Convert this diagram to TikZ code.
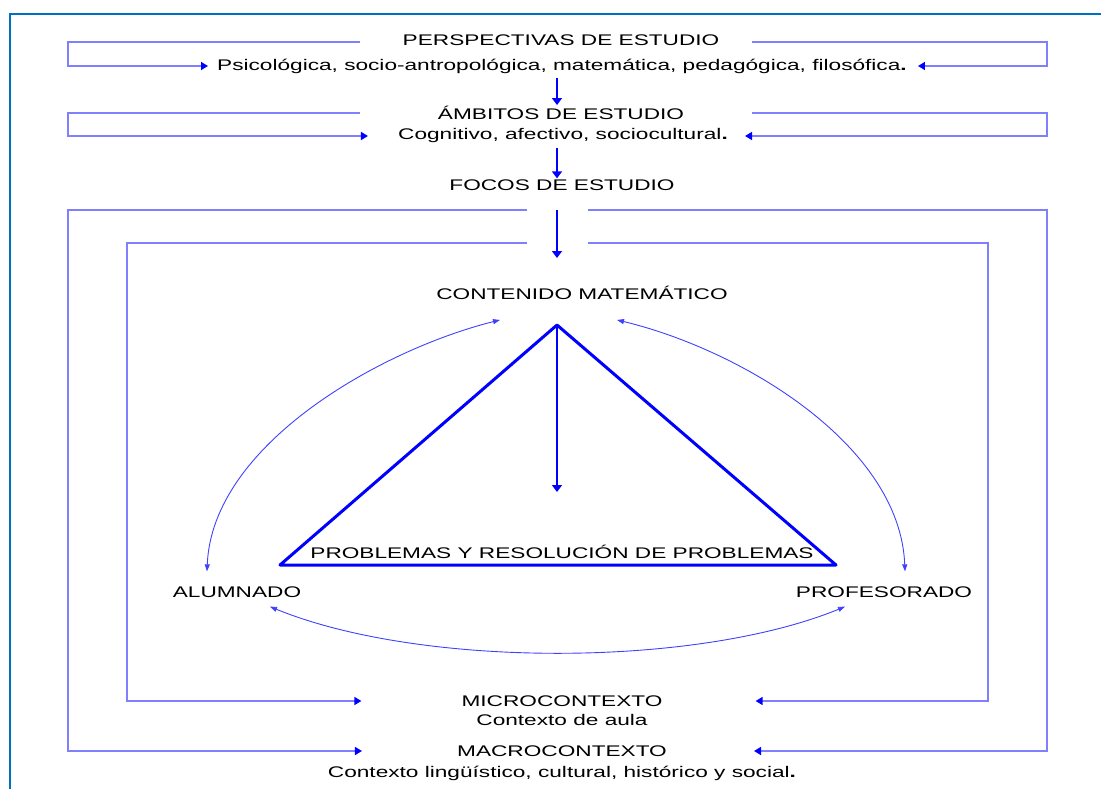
\documentclass[tikz,border=0pt]{standalone}
\usepackage{fontspec}
\setmainfont{Liberation Sans}[FakeStretch=1.47]
\usetikzlibrary{arrows.meta}
\definecolor{framecol}{RGB}{0,112,192}

\begin{document}
\begin{tikzpicture}[x=1pt, y=-1pt,
	lbl/.style={font=\fontsize{15.4}{18}\selectfont, inner sep=1pt},
	guide/.style={blue!50, line width=1.5pt},
	feed/.style={guide, -{Triangle[length=7pt, width=8pt, color=blue]}},
	down/.style={blue, line width=1.5pt, -{Triangle[length=7pt, width=10pt]}},
	link/.style={blue!75, line width=0.9pt, {Triangle[length=7pt, width=5pt]}-{Triangle[length=7pt, width=5pt]}},
	tri/.style={blue, line width=3pt, line join=round}]
	\useasboundingbox (0,0) rectangle (1101,789);
	\draw[framecol, line width=2pt] (10,789) -- (10,14) -- (1101,14);
	% levels of study
	\node[lbl] (persp) at (561,40) {PERSPECTIVAS DE ESTUDIO};
	\node[lbl] (psico) at (562,66) {Psicológica, socio-antropológica, matemática, pedagógica, filosófica\textbf{.}};
	\node[lbl] (ambit) at (561,113) {ÁMBITOS DE ESTUDIO};
	\node[lbl] (cogn) at (563,136) {Cognitivo, afectivo, sociocultural\textbf{.}};
	\node[lbl] (focos) at (562,185) {FOCOS DE ESTUDIO};
	\coordinate (p-l) at (360,42);
	\coordinate (p-r) at (752,42);
	\coordinate (a-l) at (360,113);
	\coordinate (a-r) at (752,113);
	\draw[feed] (p-l) -| (68,66) -- ([xshift=-8]psico.west);
	\draw[feed] (p-r) -| (1047,66) -- ([xshift=10]psico.east);
	\draw[feed] (a-l) -| (68,136) -- ([xshift=-29]cogn.west);
	\draw[feed] (a-r) -| (1047,136) -- ([xshift=16]cogn.east);
	\draw[down] ([xshift=-5,yshift=-4]psico.south) -- ([xshift=-4]ambit.north);
	\draw[down] ([xshift=-6,yshift=-4]cogn.south) -- ([xshift=-5]focos.north);
	% contexts
	\node[lbl] (micro) at (562,701) {MICROCONTEXTO};
	\node[lbl] (aula) at (562,720) {Contexto de aula};
	\node[lbl] (macro) at (562,751) {MACROCONTEXTO};
	\node[lbl] (lingu) at (562,773) {Contexto lingüístico, cultural, histórico y social\textbf{.}};
	\coordinate (o-l) at (527,210);
	\coordinate (o-r) at (588,210);
	\coordinate (i-l) at (527,243);
	\coordinate (i-r) at (588,243);
	\draw[feed] (o-l) -| (68,751) -- ([xshift=-94]macro.west);
	\draw[feed] (o-r) -| (1047,751) -- ([xshift=86]macro.east);
	\draw[feed] (i-l) -| (127,701) -- ([xshift=-99]micro.west);
	\draw[feed] (i-r) -| (988,701) -- ([xshift=92]micro.east);
	\coordinate (f-top) at (557,210);
	\coordinate (f-end) at (557,258);
	\draw[down] (f-top) -- (f-end);
	% didactic triangle
	\node[lbl] (conten) at (582,293) {CONTENIDO MATEMÁTICO};
	\node[lbl] (probl) at (562,552) {PROBLEMAS Y RESOLUCIÓN DE PROBLEMAS};
	\node[lbl] (alum) at (237,592) {ALUMNADO};
	\node[lbl] (prof) at (884,592) {PROFESORADO};
	\coordinate (apex) at (557,325);
	\coordinate (base-l) at (280,565);
	\coordinate (base-r) at (836,565);
	\coordinate (apex-end) at (557,492);
	\draw[tri] (apex) -- (base-l) -- (base-r) -- cycle;
	\draw[down] (apex) -- (apex-end);
	\draw[link] ([xshift=-82,yshift=-19]conten.south) .. controls (380,350) and (212,445) .. ([xshift=-30,yshift=14]alum.north);
	\draw[link] ([xshift=35,yshift=-19]conten.south) .. controls (742,350) and (900,445) .. ([xshift=21,yshift=14]prof.north);
	\draw[link] ([xshift=33,yshift=-8]alum.south) .. controls (420,668) and (695,668) .. ([xshift=-39,yshift=-8]prof.south);
\end{tikzpicture}
\end{document}
